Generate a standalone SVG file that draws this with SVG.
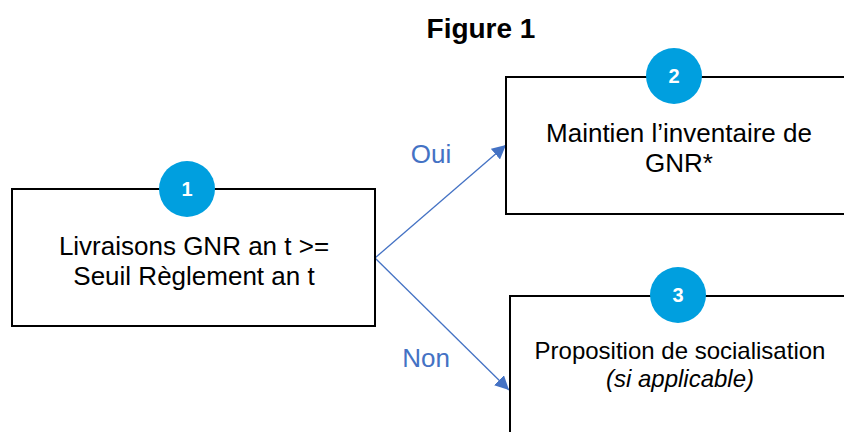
<svg xmlns="http://www.w3.org/2000/svg" width="844" height="432" viewBox="0 0 844 432">
<defs>
<style>
.box{fill:#fff;stroke:#000;stroke-width:2}
.badge{fill:#009FDF}
.num{font-family:"Liberation Sans",Arial,sans-serif;font-weight:bold;font-size:20px;fill:#fff;text-anchor:middle}
.t{font-family:"Liberation Sans",Arial,sans-serif;fill:#000;text-anchor:middle}
.lbl{font-family:"Liberation Sans",Arial,sans-serif;font-size:26px;fill:#4472C4;text-anchor:middle}
.conn{stroke:#4472C4;stroke-width:1.3;fill:none}
</style>
<marker id="ah" viewBox="0 0 10 10" refX="10" refY="5" markerWidth="14" markerHeight="14" markerUnits="userSpaceOnUse" orient="auto">
<path d="M0,0 L10,5 L0,10 z" fill="#4472C4"/>
</marker>
</defs>
<rect width="844" height="432" fill="#fff"/>
<text x="481" y="38" class="t" font-size="28" font-weight="bold">Figure 1</text>
<g id="connectors">
<line class="conn" x1="375" y1="258" x2="506" y2="145" marker-end="url(#ah)"/>
<line class="conn" x1="375" y1="258" x2="509" y2="390" marker-end="url(#ah)"/>
<text x="431" y="163" class="lbl">Oui</text>
<text x="426" y="367" class="lbl">Non</text>
</g>
<g id="node1">
<rect class="box" x="12" y="189" width="363" height="137"/>
<circle class="badge" cx="187" cy="189" r="28"/>
<text x="187" y="196" class="num">1</text>
<text x="194" y="255" class="t" font-size="26">Livraisons GNR an t &gt;=</text>
<text x="194" y="285" class="t" font-size="26">Seuil Règlement an t</text>
</g>
<g id="node2">
<rect class="box" x="506" y="77" width="350" height="137"/>
<circle class="badge" cx="674" cy="76" r="28"/>
<text x="674" y="83" class="num">2</text>
<text x="679" y="142" class="t" font-size="26">Maintien l’inventaire de</text>
<text x="679" y="172" class="t" font-size="26">GNR*</text>
</g>
<g id="node3">
<rect class="box" x="510" y="296" width="350" height="150"/>
<circle class="badge" cx="678" cy="295" r="28"/>
<text x="678" y="302" class="num">3</text>
<text x="680" y="359" class="t" font-size="24">Proposition de socialisation</text>
<text x="680" y="387" class="t" font-size="24" font-style="italic">(si applicable)</text>
</g>
</svg>
